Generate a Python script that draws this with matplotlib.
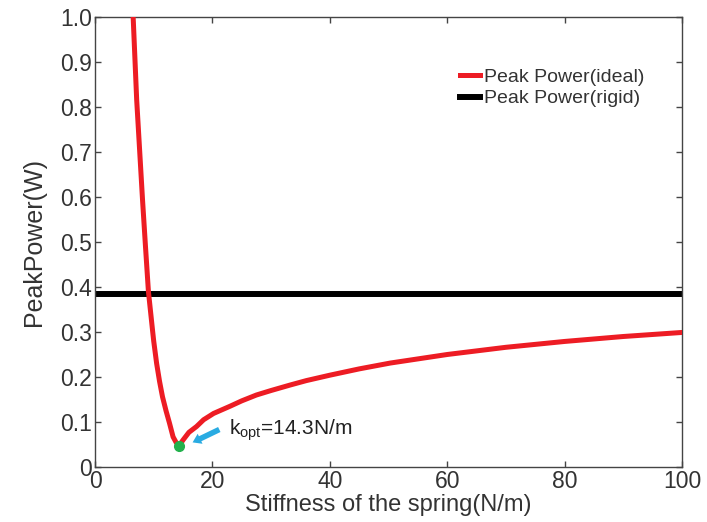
import matplotlib
matplotlib.use("Agg")
import matplotlib.pyplot as plt

# data
stiffness = [6.5, 7.1, 8.1, 8.6, 9.1, 9.8, 10.0, 10.5, 11.0, 11.5, 12.1, 12.7, 13.3,
             13.8, 14.3, 15.0, 16.0, 17.3, 18.5, 20.2, 23.0, 25.0, 27.5, 30.0, 33.2,
             36.0, 40.0, 45.0, 50.3, 60.0, 70.0, 80.0, 90.0, 100.0]
peak_ideal = [1.0, 0.816, 0.593, 0.49, 0.39, 0.304, 0.28, 0.230, 0.19, 0.156, 0.125,
              0.097, 0.067, 0.055, 0.047, 0.060, 0.077, 0.090, 0.105, 0.119, 0.135,
              0.147, 0.160, 0.170, 0.182, 0.192, 0.204, 0.218, 0.231, 0.250, 0.266,
              0.279, 0.290, 0.299]
peak_rigid = 0.385
k_opt = 14.3
p_opt = 0.047

plt.rcParams["font.family"] = ["Liberation Sans", "DejaVu Sans"]

fig = plt.figure(figsize=(7.07, 5.22), dpi=100)
ax = fig.add_axes([95/707, 55/522, 587/707, 450/522])

ax.plot(stiffness, peak_ideal, color="#ed1c24", lw=3.6, label="Peak Power(ideal)",
        solid_joinstyle="round", zorder=3)
ax.axhline(peak_rigid, color="black", lw=4.3, label="Peak Power(rigid)", zorder=2)
ax.plot([k_opt], [p_opt], "o", color="#22b14c", ms=7, zorder=4)

ax.annotate("", xy=(16.2, 0.052), xytext=(21.6, 0.086),
            arrowprops=dict(arrowstyle="simple,head_width=0.8,head_length=0.6,tail_width=0.4",
                            color="#29abe2", lw=0))
ax.text(22.8, 0.072, r"k$_{\mathregular{opt}}$=14.3N/m", fontsize=15, color="#222222")

ax.set_xlim(0, 100)
ax.set_ylim(0, 1.0)
ax.set_xticks([0, 20, 40, 60, 80, 100])
ax.set_yticks([0, 0.1, 0.2, 0.3, 0.4, 0.5, 0.6, 0.7, 0.8, 0.9, 1.0])
ax.set_yticklabels(["0", "0.1", "0.2", "0.3", "0.4", "0.5", "0.6", "0.7", "0.8", "0.9", "1.0"])
ax.tick_params(direction="in", top=True, right=True, length=4, width=1, colors="#444444",
               labelcolor="#333333", labelsize=16.5, pad=2)
for s in ax.spines.values():
    s.set_color("#444444")
    s.set_linewidth(1)

ax.set_xlabel("Stiffness of the spring(N/m)", fontsize=17, color="#333333", labelpad=1)
ax.set_ylabel("PeakPower(W)", fontsize=18, color="#333333", labelpad=10)

leg = ax.legend(loc="upper right", bbox_to_anchor=(0.965, 0.925), frameon=False,
                fontsize=14, handlelength=1.0, handletextpad=0.2, labelspacing=0.2)
for t in leg.get_texts():
    t.set_color("#333333")

fig.savefig("out.png", dpi=100)
